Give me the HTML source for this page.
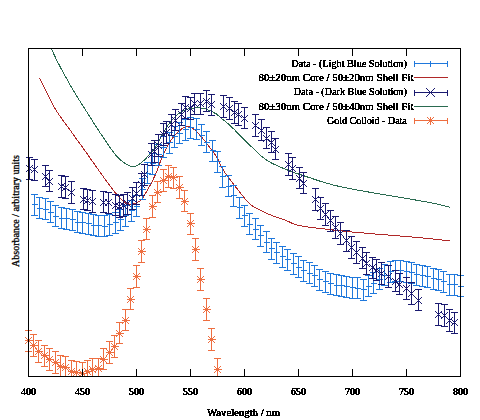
<!DOCTYPE html>
<html><head><meta charset="utf-8"><style>html,body{margin:0;padding:0;background:#fff;width:480px;height:420px;overflow:hidden}svg{display:block}</style></head>
<body><svg width="480" height="420" viewBox="0 0 480 420">
<rect width="480" height="420" fill="#fff"/>
<defs><filter id="al" x="0" y="0" width="480" height="420" filterUnits="userSpaceOnUse"><feComponentTransfer><feFuncA type="discrete" tableValues="0 0 1 1 1"/></feComponentTransfer></filter><clipPath id="pc"><rect x="0" y="48" width="480" height="329"/></clipPath></defs>
<g clip-path="url(#pc)" shape-rendering="crispEdges">
<polyline points="51.0,48.0 51.5,49.2 52.2,50.7 53.1,52.4 54.0,54.4 55.0,56.6 56.1,58.9 57.3,61.3 58.6,63.8 60.0,66.4 61.4,69.2 63.0,72.1 64.7,75.1 66.4,78.2 68.1,81.4 69.9,84.5 71.7,87.6 73.5,90.7 75.4,93.8 77.3,96.9 79.2,100.0 81.2,103.2 83.2,106.3 85.2,109.4 87.1,112.5 89.0,115.6 91.0,118.6 92.9,121.7 94.9,124.8 96.8,127.8 98.8,130.8 100.7,133.7 102.6,136.5 104.5,139.3 106.4,142.1 108.3,144.9 110.1,147.7 112.0,150.3 113.9,152.7 115.7,155.0 117.5,157.0 119.3,158.8 121.1,160.4 123.0,161.9 124.8,163.2 126.5,164.3 128.3,165.2 129.9,165.9 131.4,166.4 132.8,166.6 134.1,166.6 135.3,166.3 136.5,165.8 137.6,165.2 138.7,164.5 139.8,163.7 141.0,162.9 142.2,162.0 143.4,160.9 144.7,159.7 145.9,158.5 147.1,157.2 148.3,155.8 149.4,154.5 150.5,153.3 151.5,152.1 152.4,151.0 153.3,149.9 154.2,148.8 155.0,147.7 155.9,146.5 156.7,145.2 157.6,143.8 158.5,142.3 159.4,140.6 160.3,138.8 161.2,137.0 162.2,135.2 163.1,133.4 164.0,131.6 165.0,130.0 166.0,128.5 166.9,127.0 167.9,125.5 168.8,124.1 169.8,122.8 170.8,121.5 171.8,120.2 172.9,119.0 174.0,117.8 175.2,116.7 176.3,115.6 177.6,114.6 178.8,113.6 180.0,112.7 181.2,111.9 182.4,111.2 183.6,110.6 184.7,110.1 185.9,109.6 187.0,109.3 188.2,109.0 189.4,108.7 190.6,108.5 191.9,108.3 193.2,108.1 194.6,108.0 196.0,107.9 197.5,107.8 198.9,107.8 200.4,107.9 201.9,108.1 203.3,108.3 204.8,108.7 206.3,109.2 207.9,109.8 209.4,110.5 210.9,111.1 212.4,111.8 213.7,112.5 214.8,113.1 215.7,113.6 216.4,114.0 216.9,114.4 217.4,114.8 217.9,115.2 218.4,115.7 219.1,116.3 220.0,117.1 221.1,118.0 222.4,119.1 223.8,120.2 225.3,121.4 226.8,122.7 228.4,124.0 229.9,125.4 231.4,126.7 232.8,128.1 234.3,129.5 235.7,131.0 237.2,132.5 238.6,134.0 240.0,135.6 241.5,137.0 242.9,138.5 244.3,139.9 245.8,141.3 247.2,142.7 248.6,144.1 250.0,145.5 251.5,146.8 252.9,148.2 254.3,149.5 255.7,150.8 257.2,152.2 258.6,153.5 260.0,154.8 261.4,156.1 262.9,157.3 264.3,158.4 265.7,159.5 267.1,160.5 268.5,161.4 270.0,162.2 271.4,162.9 272.8,163.6 274.2,164.3 275.7,165.0 277.1,165.7 278.5,166.4 280.0,167.0 281.4,167.6 282.9,168.2 284.3,168.8 285.7,169.4 287.2,169.9 288.6,170.5 289.9,171.0 290.9,171.4 291.9,171.8 292.9,172.1 294.1,172.6 295.6,173.1 297.5,173.7 300.0,174.5 303.1,175.5 306.8,176.8 310.9,178.1 315.3,179.6 319.8,181.1 324.5,182.5 329.0,183.8 333.3,185.0 337.5,186.0 341.6,187.0 345.8,187.8 350.0,188.7 354.2,189.4 358.4,190.2 362.5,190.9 366.7,191.7 370.9,192.4 375.0,193.2 379.2,193.9 383.4,194.5 387.5,195.2 391.7,195.9 395.8,196.6 400.0,197.3 404.3,198.0 408.7,198.8 413.2,199.6 417.7,200.4 422.0,201.2 426.1,201.9 429.9,202.6 433.3,203.3 436.3,203.9 439.0,204.5 441.5,205.1 443.7,205.7 445.7,206.2 447.4,206.6 448.8,207.0 450.0,207.3" stroke="#2a6a50" fill="none" stroke-width="1"/>
<polyline points="39.5,78.0 40.1,79.1 40.8,80.6 41.7,82.4 42.7,84.4 43.7,86.5 44.8,88.7 45.9,90.9 47.0,93.0 48.0,95.0 49.0,97.1 50.0,99.1 51.0,101.2 52.1,103.4 53.3,105.6 54.7,108.0 56.2,110.5 57.9,113.2 59.9,116.0 61.9,118.9 64.1,121.9 66.3,125.0 68.6,128.0 70.8,131.0 72.9,134.0 75.0,137.0 77.2,140.0 79.4,143.0 81.6,146.1 83.7,149.0 85.7,151.9 87.7,154.5 89.4,157.0 90.9,159.2 92.3,161.1 93.5,162.8 94.6,164.4 95.6,166.0 96.8,167.6 98.0,169.3 99.3,171.2 100.8,173.3 102.5,175.6 104.2,178.0 106.0,180.4 107.7,182.8 109.4,185.0 111.0,187.1 112.4,189.0 113.7,190.6 114.8,192.1 115.9,193.4 116.9,194.6 117.8,195.7 118.7,196.7 119.7,197.7 120.7,198.6 121.7,199.5 122.7,200.4 123.7,201.3 124.7,202.1 125.7,202.8 126.7,203.3 127.8,203.8 129.0,204.0 130.2,204.1 131.6,204.1 133.0,203.9 134.4,203.6 135.8,203.2 137.2,202.6 138.6,201.9 139.8,201.0 141.0,200.0 142.0,198.7 143.1,197.3 144.1,195.8 145.1,194.1 146.0,192.4 147.0,190.7 148.0,189.0 149.0,187.3 150.0,185.5 151.0,183.6 152.0,181.7 153.0,179.8 153.9,177.8 154.8,175.9 155.7,174.0 156.5,172.1 157.2,170.3 157.9,168.4 158.6,166.5 159.2,164.7 159.9,162.8 160.6,160.9 161.4,159.0 162.3,157.0 163.2,155.0 164.1,153.0 165.1,150.9 166.1,148.9 167.0,147.0 168.0,145.2 169.0,143.5 169.9,142.0 170.9,140.5 171.8,139.2 172.7,138.0 173.7,136.8 174.6,135.7 175.7,134.6 176.7,133.5 177.8,132.4 179.0,131.3 180.2,130.2 181.5,129.1 182.7,128.2 183.9,127.4 185.1,126.8 186.2,126.4 187.2,126.3 188.2,126.3 189.2,126.5 190.1,126.9 191.0,127.4 191.9,128.0 192.9,128.6 193.8,129.3 194.8,130.0 195.7,130.8 196.7,131.7 197.6,132.7 198.6,133.7 199.5,134.8 200.5,135.8 201.4,136.9 202.4,138.0 203.3,139.1 204.3,140.3 205.2,141.5 206.2,142.7 207.1,144.0 208.1,145.2 209.0,146.4 209.9,147.6 210.8,148.7 211.7,149.8 212.5,150.9 213.4,152.1 214.2,153.3 215.1,154.6 216.0,156.0 216.9,157.6 217.8,159.2 218.7,161.0 219.6,162.9 220.5,164.7 221.4,166.6 222.3,168.3 223.3,170.0 224.3,171.6 225.3,173.1 226.4,174.6 227.4,176.1 228.5,177.5 229.6,178.9 230.6,180.3 231.7,181.7 232.7,183.1 233.8,184.5 234.8,185.9 235.9,187.2 236.9,188.5 237.9,189.9 239.0,191.2 240.0,192.5 241.0,193.8 242.1,195.2 243.2,196.5 244.3,197.9 245.3,199.2 246.3,200.4 247.3,201.5 248.3,202.5 249.2,203.4 250.0,204.1 250.8,204.7 251.5,205.3 252.3,205.8 253.1,206.4 254.0,206.9 255.0,207.5 256.1,208.1 257.3,208.8 258.5,209.4 259.8,210.0 261.1,210.7 262.4,211.3 263.7,211.9 265.0,212.5 266.2,213.1 267.5,213.6 268.8,214.2 270.0,214.7 271.2,215.2 272.5,215.7 273.8,216.2 275.0,216.7 276.2,217.1 277.4,217.5 278.5,217.9 279.7,218.3 280.9,218.6 282.1,219.0 283.5,219.5 285.0,220.0 286.5,220.6 288.0,221.3 289.5,222.0 291.0,222.8 292.8,223.6 294.8,224.3 297.2,225.0 300.0,225.7 303.3,226.3 307.0,226.9 311.1,227.5 315.5,228.0 320.0,228.5 324.5,229.0 329.0,229.5 333.3,230.0 337.5,230.5 341.6,230.9 345.8,231.3 350.0,231.8 354.2,232.2 358.4,232.5 362.5,232.9 366.7,233.3 370.9,233.7 375.0,234.0 379.2,234.3 383.4,234.7 387.5,235.0 391.7,235.3 395.8,235.7 400.0,236.0 404.3,236.4 408.7,236.8 413.2,237.1 417.7,237.5 422.0,237.9 426.1,238.3 429.9,238.7 433.3,239.0 436.3,239.3 439.0,239.6 441.5,239.9 443.7,240.2 445.7,240.4 447.4,240.7 448.8,240.9 450.0,241.0" stroke="#b02828" fill="none" stroke-width="1"/>
<path d="M34.5 194.5V215.5M31.0 194.5h7.0M31.0 215.5h7.0M31.5 204.5h6M34.5 201.5v6M39.5 197.5V218.5M36.0 197.5h7.0M36.0 218.5h7.0M36.5 208.5h6M39.5 205.5v6M45.5 198.5V219.5M42.0 198.5h7.0M42.0 219.5h7.0M42.5 209.5h6M45.5 206.5v6M50.5 201.5V222.5M47.0 201.5h7.0M47.0 222.5h7.0M47.5 212.5h6M50.5 209.5v6M55.5 205.5V226.5M52.0 205.5h7.0M52.0 226.5h7.0M52.5 216.5h6M55.5 213.5v6M61.5 207.5V228.5M58.0 207.5h7.0M58.0 228.5h7.0M58.5 218.5h6M61.5 215.5v6M66.5 208.5V229.5M63.0 208.5h7.0M63.0 229.5h7.0M63.5 218.5h6M66.5 215.5v6M72.5 209.5V230.5M69.0 209.5h7.0M69.0 230.5h7.0M69.5 219.5h6M72.5 216.5v6M77.5 211.5V232.5M74.0 211.5h7.0M74.0 232.5h7.0M74.5 222.5h6M77.5 219.5v6M82.5 212.5V233.5M79.0 212.5h7.0M79.0 233.5h7.0M79.5 222.5h6M82.5 219.5v6M88.5 213.5V234.5M85.0 213.5h7.0M85.0 234.5h7.0M85.5 223.5h6M88.5 220.5v6M93.5 214.5V235.5M90.0 214.5h7.0M90.0 235.5h7.0M90.5 225.5h6M93.5 222.5v6M98.5 215.5V236.5M95.0 215.5h7.0M95.0 236.5h7.0M95.5 225.5h6M98.5 222.5v6M104.5 215.5V236.5M101.0 215.5h7.0M101.0 236.5h7.0M101.5 226.5h6M104.5 223.5v6M109.5 214.5V235.5M106.0 214.5h7.0M106.0 235.5h7.0M106.5 224.5h6M109.5 221.5v6M115.5 212.5V233.5M112.0 212.5h7.0M112.0 233.5h7.0M112.5 222.5h6M115.5 219.5v6M120.5 209.5V230.5M117.0 209.5h7.0M117.0 230.5h7.0M117.5 219.5h6M120.5 216.5v6M125.5 205.5V226.5M122.0 205.5h7.0M122.0 226.5h7.0M122.5 215.5h6M125.5 212.5v6M131.5 200.5V221.5M128.0 200.5h7.0M128.0 221.5h7.0M128.5 210.5h6M131.5 207.5v6M136.5 195.5V216.5M133.0 195.5h7.0M133.0 216.5h7.0M133.5 206.5h6M136.5 203.5v6M142.5 178.5V199.5M139.0 178.5h7.0M139.0 199.5h7.0M139.5 189.5h6M142.5 186.5v6M147.5 162.5V183.5M144.0 162.5h7.0M144.0 183.5h7.0M144.5 173.5h6M147.5 170.5v6M152.5 153.5V174.5M149.0 153.5h7.0M149.0 174.5h7.0M149.5 163.5h6M152.5 160.5v6M158.5 144.5V165.5M155.0 144.5h7.0M155.0 165.5h7.0M155.5 154.5h6M158.5 151.5v6M163.5 136.5V157.5M160.0 136.5h7.0M160.0 157.5h7.0M160.5 147.5h6M163.5 144.5v6M169.5 132.5V153.5M166.0 132.5h7.0M166.0 153.5h7.0M166.5 142.5h6M169.5 139.5v6M174.5 126.5V147.5M171.0 126.5h7.0M171.0 147.5h7.0M171.5 136.5h6M174.5 133.5v6M179.5 122.5V143.5M176.0 122.5h7.0M176.0 143.5h7.0M176.5 133.5h6M179.5 130.5v6M185.5 119.5V140.5M182.0 119.5h7.0M182.0 140.5h7.0M182.5 129.5h6M185.5 126.5v6M190.5 117.5V138.5M187.0 117.5h7.0M187.0 138.5h7.0M187.5 127.5h6M190.5 124.5v6M196.5 118.5V139.5M193.0 118.5h7.0M193.0 139.5h7.0M193.5 129.5h6M196.5 126.5v6M201.5 124.5V145.5M198.0 124.5h7.0M198.0 145.5h7.0M198.5 135.5h6M201.5 132.5v6M206.5 131.5V152.5M203.0 131.5h7.0M203.0 152.5h7.0M203.5 142.5h6M206.5 139.5v6M212.5 140.5V161.5M209.0 140.5h7.0M209.0 161.5h7.0M209.5 150.5h6M212.5 147.5v6M217.5 151.5V172.5M214.0 151.5h7.0M214.0 172.5h7.0M214.5 161.5h6M217.5 158.5v6M222.5 166.5V187.5M219.0 166.5h7.0M219.0 187.5h7.0M219.5 176.5h6M222.5 173.5v6M228.5 175.5V196.5M225.0 175.5h7.0M225.0 196.5h7.0M225.5 186.5h6M228.5 183.5v6M233.5 185.5V206.5M230.0 185.5h7.0M230.0 206.5h7.0M230.5 195.5h6M233.5 192.5v6M239.5 197.5V218.5M236.0 197.5h7.0M236.0 218.5h7.0M236.5 207.5h6M239.5 204.5v6M244.5 205.5V226.5M241.0 205.5h7.0M241.0 226.5h7.0M241.5 215.5h6M244.5 212.5v6M249.5 213.5V234.5M246.0 213.5h7.0M246.0 234.5h7.0M246.5 224.5h6M249.5 221.5v6M255.5 218.5V239.5M252.0 218.5h7.0M252.0 239.5h7.0M252.5 229.5h6M255.5 226.5v6M260.5 225.5V246.5M257.0 225.5h7.0M257.0 246.5h7.0M257.5 235.5h6M260.5 232.5v6M266.5 231.5V252.5M263.0 231.5h7.0M263.0 252.5h7.0M263.5 242.5h6M266.5 239.5v6M271.5 238.5V259.5M268.0 238.5h7.0M268.0 259.5h7.0M268.5 248.5h6M271.5 245.5v6M276.5 242.5V263.5M273.0 242.5h7.0M273.0 263.5h7.0M273.5 252.5h6M276.5 249.5v6M282.5 246.5V267.5M279.0 246.5h7.0M279.0 267.5h7.0M279.5 256.5h6M282.5 253.5v6M287.5 249.5V270.5M284.0 249.5h7.0M284.0 270.5h7.0M284.5 259.5h6M287.5 256.5v6M293.5 253.5V274.5M290.0 253.5h7.0M290.0 274.5h7.0M290.5 263.5h6M293.5 260.5v6M298.5 256.5V277.5M295.0 256.5h7.0M295.0 277.5h7.0M295.5 267.5h6M298.5 264.5v6M303.5 260.5V281.5M300.0 260.5h7.0M300.0 281.5h7.0M300.5 270.5h6M303.5 267.5v6M309.5 262.5V283.5M306.0 262.5h7.0M306.0 283.5h7.0M306.5 273.5h6M309.5 270.5v6M314.5 265.5V286.5M311.0 265.5h7.0M311.0 286.5h7.0M311.5 275.5h6M314.5 272.5v6M319.5 269.5V290.5M316.0 269.5h7.0M316.0 290.5h7.0M316.5 279.5h6M319.5 276.5v6M325.5 271.5V292.5M322.0 271.5h7.0M322.0 292.5h7.0M322.5 281.5h6M325.5 278.5v6M330.5 273.5V294.5M327.0 273.5h7.0M327.0 294.5h7.0M327.5 283.5h6M330.5 280.5v6M336.5 274.5V295.5M333.0 274.5h7.0M333.0 295.5h7.0M333.5 285.5h6M336.5 282.5v6M341.5 275.5V296.5M338.0 275.5h7.0M338.0 296.5h7.0M338.5 285.5h6M341.5 282.5v6M346.5 276.5V297.5M343.0 276.5h7.0M343.0 297.5h7.0M343.5 286.5h6M346.5 283.5v6M352.5 277.5V298.5M349.0 277.5h7.0M349.0 298.5h7.0M349.5 287.5h6M352.5 284.5v6M357.5 277.5V298.5M354.0 277.5h7.0M354.0 298.5h7.0M354.5 288.5h6M357.5 285.5v6M363.5 279.5V300.5M360.0 279.5h7.0M360.0 300.5h7.0M360.5 289.5h6M363.5 286.5v6M368.5 275.5V296.5M365.0 275.5h7.0M365.0 296.5h7.0M365.5 286.5h6M368.5 283.5v6M373.5 272.5V293.5M370.0 272.5h7.0M370.0 293.5h7.0M370.5 283.5h6M373.5 280.5v6M379.5 268.5V289.5M376.0 268.5h7.0M376.0 289.5h7.0M376.5 279.5h6M379.5 276.5v6M384.5 264.5V285.5M381.0 264.5h7.0M381.0 285.5h7.0M381.5 275.5h6M384.5 272.5v6M390.5 261.5V282.5M387.0 261.5h7.0M387.0 282.5h7.0M387.5 271.5h6M390.5 268.5v6M395.5 260.5V281.5M392.0 260.5h7.0M392.0 281.5h7.0M392.5 270.5h6M395.5 267.5v6M400.5 260.5V281.5M397.0 260.5h7.0M397.0 281.5h7.0M397.5 270.5h6M400.5 267.5v6M406.5 261.5V282.5M403.0 261.5h7.0M403.0 282.5h7.0M403.5 271.5h6M406.5 268.5v6M411.5 262.5V283.5M408.0 262.5h7.0M408.0 283.5h7.0M408.5 272.5h6M411.5 269.5v6M416.5 264.5V285.5M413.0 264.5h7.0M413.0 285.5h7.0M413.5 274.5h6M416.5 271.5v6M422.5 265.5V286.5M419.0 265.5h7.0M419.0 286.5h7.0M419.5 275.5h6M422.5 272.5v6M427.5 266.5V287.5M424.0 266.5h7.0M424.0 287.5h7.0M424.5 276.5h6M427.5 273.5v6M433.5 268.5V289.5M430.0 268.5h7.0M430.0 289.5h7.0M430.5 278.5h6M433.5 275.5v6M438.5 269.5V290.5M435.0 269.5h7.0M435.0 290.5h7.0M435.5 279.5h6M438.5 276.5v6M443.5 271.5V292.5M440.0 271.5h7.0M440.0 292.5h7.0M440.5 281.5h6M443.5 278.5v6M449.5 274.5V295.5M446.0 274.5h7.0M446.0 295.5h7.0M446.5 284.5h6M449.5 281.5v6M454.5 274.5V295.5M451.0 274.5h7.0M451.0 295.5h7.0M451.5 284.5h6M454.5 281.5v6M460.5 275.5V296.5M457.0 275.5h7.0M457.0 296.5h7.0M457.5 286.5h6M460.5 283.5v6" stroke="#1f78dc" fill="none" stroke-width="1"/>
<path d="M29.5 157.5V179.5M26.0 157.5h7.0M26.0 179.5h7.0M34.5 159.5V180.5M31.0 159.5h7.0M31.0 180.5h7.0M45.5 165.5V186.5M42.0 165.5h7.0M42.0 186.5h7.0M49.5 170.5V191.5M46.0 170.5h7.0M46.0 191.5h7.0M61.5 175.5V197.5M58.0 175.5h7.0M58.0 197.5h7.0M65.5 176.5V198.5M62.0 176.5h7.0M62.0 198.5h7.0M71.5 181.5V203.5M68.0 181.5h7.0M68.0 203.5h7.0M83.5 188.5V209.5M80.0 188.5h7.0M80.0 209.5h7.0M87.5 189.5V210.5M84.0 189.5h7.0M84.0 210.5h7.0M92.5 190.5V212.5M89.0 190.5h7.0M89.0 212.5h7.0M103.5 191.5V212.5M100.0 191.5h7.0M100.0 212.5h7.0M108.5 192.5V213.5M105.0 192.5h7.0M105.0 213.5h7.0M115.5 194.5V215.5M112.0 194.5h7.0M112.0 215.5h7.0M119.5 195.5V217.5M116.0 195.5h7.0M116.0 217.5h7.0M123.5 194.5V216.5M120.0 194.5h7.0M120.0 216.5h7.0M127.5 192.5V214.5M124.0 192.5h7.0M124.0 214.5h7.0M132.5 187.5V209.5M129.0 187.5h7.0M129.0 209.5h7.0M136.5 182.5V204.5M133.0 182.5h7.0M133.0 204.5h7.0M141.5 173.5V195.5M138.0 173.5h7.0M138.0 195.5h7.0M144.5 164.5V185.5M141.0 164.5h7.0M141.0 185.5h7.0M151.5 143.5V165.5M148.0 143.5h7.0M148.0 165.5h7.0M154.5 140.5V162.5M151.0 140.5h7.0M151.0 162.5h7.0M158.5 134.5V156.5M155.0 134.5h7.0M155.0 156.5h7.0M163.5 123.5V145.5M160.0 123.5h7.0M160.0 145.5h7.0M166.5 121.5V143.5M163.0 121.5h7.0M163.0 143.5h7.0M171.5 114.5V135.5M168.0 114.5h7.0M168.0 135.5h7.0M175.5 109.5V130.5M172.0 109.5h7.0M172.0 130.5h7.0M181.5 103.5V125.5M178.0 103.5h7.0M178.0 125.5h7.0M185.5 96.5V118.5M182.0 96.5h7.0M182.0 118.5h7.0M190.5 97.5V119.5M187.0 97.5h7.0M187.0 119.5h7.0M194.5 93.5V114.5M191.0 93.5h7.0M191.0 114.5h7.0M200.5 93.5V114.5M197.0 93.5h7.0M197.0 114.5h7.0M206.5 90.5V111.5M203.0 90.5h7.0M203.0 111.5h7.0M211.5 94.5V115.5M208.0 94.5h7.0M208.0 115.5h7.0M223.5 95.5V117.5M220.0 95.5h7.0M220.0 117.5h7.0M229.5 97.5V119.5M226.0 97.5h7.0M226.0 119.5h7.0M234.5 101.5V123.5M231.0 101.5h7.0M231.0 123.5h7.0M238.5 103.5V125.5M235.0 103.5h7.0M235.0 125.5h7.0M244.5 107.5V128.5M241.0 107.5h7.0M241.0 128.5h7.0M255.5 114.5V136.5M252.0 114.5h7.0M252.0 136.5h7.0M261.5 119.5V140.5M258.0 119.5h7.0M258.0 140.5h7.0M266.5 127.5V148.5M263.0 127.5h7.0M263.0 148.5h7.0M271.5 131.5V152.5M268.0 131.5h7.0M268.0 152.5h7.0M275.5 138.5V159.5M272.0 138.5h7.0M272.0 159.5h7.0M288.5 153.5V175.5M285.0 153.5h7.0M285.0 175.5h7.0M292.5 157.5V179.5M289.0 157.5h7.0M289.0 179.5h7.0M299.5 167.5V188.5M296.0 167.5h7.0M296.0 188.5h7.0M303.5 172.5V193.5M300.0 172.5h7.0M300.0 193.5h7.0M315.5 188.5V210.5M312.0 188.5h7.0M312.0 210.5h7.0M320.5 197.5V219.5M317.0 197.5h7.0M317.0 219.5h7.0M325.5 203.5V225.5M322.0 203.5h7.0M322.0 225.5h7.0M330.5 210.5V231.5M327.0 210.5h7.0M327.0 231.5h7.0M335.5 216.5V238.5M332.0 216.5h7.0M332.0 238.5h7.0M340.5 222.5V244.5M337.0 222.5h7.0M337.0 244.5h7.0M346.5 230.5V251.5M343.0 230.5h7.0M343.0 251.5h7.0M351.5 236.5V258.5M348.0 236.5h7.0M348.0 258.5h7.0M356.5 241.5V263.5M353.0 241.5h7.0M353.0 263.5h7.0M362.5 247.5V268.5M359.0 247.5h7.0M359.0 268.5h7.0M366.5 252.5V274.5M363.0 252.5h7.0M363.0 274.5h7.0M372.5 257.5V278.5M369.0 257.5h7.0M369.0 278.5h7.0M376.5 259.5V280.5M373.0 259.5h7.0M373.0 280.5h7.0M381.5 262.5V284.5M378.0 262.5h7.0M378.0 284.5h7.0M388.5 265.5V287.5M385.0 265.5h7.0M385.0 287.5h7.0M395.5 270.5V291.5M392.0 270.5h7.0M392.0 291.5h7.0M399.5 273.5V294.5M396.0 273.5h7.0M396.0 294.5h7.0M406.5 277.5V299.5M403.0 277.5h7.0M403.0 299.5h7.0M411.5 282.5V304.5M408.0 282.5h7.0M408.0 304.5h7.0M418.5 289.5V310.5M415.0 289.5h7.0M415.0 310.5h7.0M438.5 303.5V325.5M435.0 303.5h7.0M435.0 325.5h7.0M444.5 304.5V326.5M441.0 304.5h7.0M441.0 326.5h7.0M449.5 309.5V331.5M446.0 309.5h7.0M446.0 331.5h7.0M454.5 312.5V333.5M451.0 312.5h7.0M451.0 333.5h7.0" stroke="#1a1a70" fill="none" stroke-width="1"/><path d="M26 165h1v1h-1zM26 171h1v1h-1zM27 166h1v1h-1zM27 170h1v1h-1zM28 167h1v1h-1zM28 169h1v1h-1zM29 168h1v1h-1zM30 169h1v1h-1zM30 167h1v1h-1zM31 170h1v1h-1zM31 166h1v1h-1zM32 171h1v1h-1zM32 165h1v1h-1zM31 166h1v1h-1zM31 172h1v1h-1zM32 167h1v1h-1zM32 171h1v1h-1zM33 168h1v1h-1zM33 170h1v1h-1zM34 169h1v1h-1zM35 170h1v1h-1zM35 168h1v1h-1zM36 171h1v1h-1zM36 167h1v1h-1zM37 172h1v1h-1zM37 166h1v1h-1zM42 173h1v1h-1zM42 179h1v1h-1zM43 174h1v1h-1zM43 178h1v1h-1zM44 175h1v1h-1zM44 177h1v1h-1zM45 176h1v1h-1zM46 177h1v1h-1zM46 175h1v1h-1zM47 178h1v1h-1zM47 174h1v1h-1zM48 179h1v1h-1zM48 173h1v1h-1zM46 178h1v1h-1zM46 184h1v1h-1zM47 179h1v1h-1zM47 183h1v1h-1zM48 180h1v1h-1zM48 182h1v1h-1zM49 181h1v1h-1zM50 182h1v1h-1zM50 180h1v1h-1zM51 183h1v1h-1zM51 179h1v1h-1zM52 184h1v1h-1zM52 178h1v1h-1zM58 183h1v1h-1zM58 189h1v1h-1zM59 184h1v1h-1zM59 188h1v1h-1zM60 185h1v1h-1zM60 187h1v1h-1zM61 186h1v1h-1zM62 187h1v1h-1zM62 185h1v1h-1zM63 188h1v1h-1zM63 184h1v1h-1zM64 189h1v1h-1zM64 183h1v1h-1zM62 184h1v1h-1zM62 190h1v1h-1zM63 185h1v1h-1zM63 189h1v1h-1zM64 186h1v1h-1zM64 188h1v1h-1zM65 187h1v1h-1zM66 188h1v1h-1zM66 186h1v1h-1zM67 189h1v1h-1zM67 185h1v1h-1zM68 190h1v1h-1zM68 184h1v1h-1zM68 189h1v1h-1zM68 195h1v1h-1zM69 190h1v1h-1zM69 194h1v1h-1zM70 191h1v1h-1zM70 193h1v1h-1zM71 192h1v1h-1zM72 193h1v1h-1zM72 191h1v1h-1zM73 194h1v1h-1zM73 190h1v1h-1zM74 195h1v1h-1zM74 189h1v1h-1zM80 196h1v1h-1zM80 202h1v1h-1zM81 197h1v1h-1zM81 201h1v1h-1zM82 198h1v1h-1zM82 200h1v1h-1zM83 199h1v1h-1zM84 200h1v1h-1zM84 198h1v1h-1zM85 201h1v1h-1zM85 197h1v1h-1zM86 202h1v1h-1zM86 196h1v1h-1zM84 197h1v1h-1zM84 203h1v1h-1zM85 198h1v1h-1zM85 202h1v1h-1zM86 199h1v1h-1zM86 201h1v1h-1zM87 200h1v1h-1zM88 201h1v1h-1zM88 199h1v1h-1zM89 202h1v1h-1zM89 198h1v1h-1zM90 203h1v1h-1zM90 197h1v1h-1zM89 198h1v1h-1zM89 204h1v1h-1zM90 199h1v1h-1zM90 203h1v1h-1zM91 200h1v1h-1zM91 202h1v1h-1zM92 201h1v1h-1zM93 202h1v1h-1zM93 200h1v1h-1zM94 203h1v1h-1zM94 199h1v1h-1zM95 204h1v1h-1zM95 198h1v1h-1zM100 199h1v1h-1zM100 205h1v1h-1zM101 200h1v1h-1zM101 204h1v1h-1zM102 201h1v1h-1zM102 203h1v1h-1zM103 202h1v1h-1zM104 203h1v1h-1zM104 201h1v1h-1zM105 204h1v1h-1zM105 200h1v1h-1zM106 205h1v1h-1zM106 199h1v1h-1zM105 199h1v1h-1zM105 205h1v1h-1zM106 200h1v1h-1zM106 204h1v1h-1zM107 201h1v1h-1zM107 203h1v1h-1zM108 202h1v1h-1zM109 203h1v1h-1zM109 201h1v1h-1zM110 204h1v1h-1zM110 200h1v1h-1zM111 205h1v1h-1zM111 199h1v1h-1zM112 202h1v1h-1zM112 208h1v1h-1zM113 203h1v1h-1zM113 207h1v1h-1zM114 204h1v1h-1zM114 206h1v1h-1zM115 205h1v1h-1zM116 206h1v1h-1zM116 204h1v1h-1zM117 207h1v1h-1zM117 203h1v1h-1zM118 208h1v1h-1zM118 202h1v1h-1zM116 203h1v1h-1zM116 209h1v1h-1zM117 204h1v1h-1zM117 208h1v1h-1zM118 205h1v1h-1zM118 207h1v1h-1zM119 206h1v1h-1zM120 207h1v1h-1zM120 205h1v1h-1zM121 208h1v1h-1zM121 204h1v1h-1zM122 209h1v1h-1zM122 203h1v1h-1zM120 202h1v1h-1zM120 208h1v1h-1zM121 203h1v1h-1zM121 207h1v1h-1zM122 204h1v1h-1zM122 206h1v1h-1zM123 205h1v1h-1zM124 206h1v1h-1zM124 204h1v1h-1zM125 207h1v1h-1zM125 203h1v1h-1zM126 208h1v1h-1zM126 202h1v1h-1zM124 200h1v1h-1zM124 206h1v1h-1zM125 201h1v1h-1zM125 205h1v1h-1zM126 202h1v1h-1zM126 204h1v1h-1zM127 203h1v1h-1zM128 204h1v1h-1zM128 202h1v1h-1zM129 205h1v1h-1zM129 201h1v1h-1zM130 206h1v1h-1zM130 200h1v1h-1zM129 195h1v1h-1zM129 201h1v1h-1zM130 196h1v1h-1zM130 200h1v1h-1zM131 197h1v1h-1zM131 199h1v1h-1zM132 198h1v1h-1zM133 199h1v1h-1zM133 197h1v1h-1zM134 200h1v1h-1zM134 196h1v1h-1zM135 201h1v1h-1zM135 195h1v1h-1zM133 190h1v1h-1zM133 196h1v1h-1zM134 191h1v1h-1zM134 195h1v1h-1zM135 192h1v1h-1zM135 194h1v1h-1zM136 193h1v1h-1zM137 194h1v1h-1zM137 192h1v1h-1zM138 195h1v1h-1zM138 191h1v1h-1zM139 196h1v1h-1zM139 190h1v1h-1zM138 181h1v1h-1zM138 187h1v1h-1zM139 182h1v1h-1zM139 186h1v1h-1zM140 183h1v1h-1zM140 185h1v1h-1zM141 184h1v1h-1zM142 185h1v1h-1zM142 183h1v1h-1zM143 186h1v1h-1zM143 182h1v1h-1zM144 187h1v1h-1zM144 181h1v1h-1zM141 171h1v1h-1zM141 177h1v1h-1zM142 172h1v1h-1zM142 176h1v1h-1zM143 173h1v1h-1zM143 175h1v1h-1zM144 174h1v1h-1zM145 175h1v1h-1zM145 173h1v1h-1zM146 176h1v1h-1zM146 172h1v1h-1zM147 177h1v1h-1zM147 171h1v1h-1zM148 151h1v1h-1zM148 157h1v1h-1zM149 152h1v1h-1zM149 156h1v1h-1zM150 153h1v1h-1zM150 155h1v1h-1zM151 154h1v1h-1zM152 155h1v1h-1zM152 153h1v1h-1zM153 156h1v1h-1zM153 152h1v1h-1zM154 157h1v1h-1zM154 151h1v1h-1zM151 148h1v1h-1zM151 154h1v1h-1zM152 149h1v1h-1zM152 153h1v1h-1zM153 150h1v1h-1zM153 152h1v1h-1zM154 151h1v1h-1zM155 152h1v1h-1zM155 150h1v1h-1zM156 153h1v1h-1zM156 149h1v1h-1zM157 154h1v1h-1zM157 148h1v1h-1zM155 142h1v1h-1zM155 148h1v1h-1zM156 143h1v1h-1zM156 147h1v1h-1zM157 144h1v1h-1zM157 146h1v1h-1zM158 145h1v1h-1zM159 146h1v1h-1zM159 144h1v1h-1zM160 147h1v1h-1zM160 143h1v1h-1zM161 148h1v1h-1zM161 142h1v1h-1zM160 131h1v1h-1zM160 137h1v1h-1zM161 132h1v1h-1zM161 136h1v1h-1zM162 133h1v1h-1zM162 135h1v1h-1zM163 134h1v1h-1zM164 135h1v1h-1zM164 133h1v1h-1zM165 136h1v1h-1zM165 132h1v1h-1zM166 137h1v1h-1zM166 131h1v1h-1zM163 129h1v1h-1zM163 135h1v1h-1zM164 130h1v1h-1zM164 134h1v1h-1zM165 131h1v1h-1zM165 133h1v1h-1zM166 132h1v1h-1zM167 133h1v1h-1zM167 131h1v1h-1zM168 134h1v1h-1zM168 130h1v1h-1zM169 135h1v1h-1zM169 129h1v1h-1zM168 121h1v1h-1zM168 127h1v1h-1zM169 122h1v1h-1zM169 126h1v1h-1zM170 123h1v1h-1zM170 125h1v1h-1zM171 124h1v1h-1zM172 125h1v1h-1zM172 123h1v1h-1zM173 126h1v1h-1zM173 122h1v1h-1zM174 127h1v1h-1zM174 121h1v1h-1zM172 117h1v1h-1zM172 123h1v1h-1zM173 118h1v1h-1zM173 122h1v1h-1zM174 119h1v1h-1zM174 121h1v1h-1zM175 120h1v1h-1zM176 121h1v1h-1zM176 119h1v1h-1zM177 122h1v1h-1zM177 118h1v1h-1zM178 123h1v1h-1zM178 117h1v1h-1zM178 111h1v1h-1zM178 117h1v1h-1zM179 112h1v1h-1zM179 116h1v1h-1zM180 113h1v1h-1zM180 115h1v1h-1zM181 114h1v1h-1zM182 115h1v1h-1zM182 113h1v1h-1zM183 116h1v1h-1zM183 112h1v1h-1zM184 117h1v1h-1zM184 111h1v1h-1zM182 104h1v1h-1zM182 110h1v1h-1zM183 105h1v1h-1zM183 109h1v1h-1zM184 106h1v1h-1zM184 108h1v1h-1zM185 107h1v1h-1zM186 108h1v1h-1zM186 106h1v1h-1zM187 109h1v1h-1zM187 105h1v1h-1zM188 110h1v1h-1zM188 104h1v1h-1zM187 105h1v1h-1zM187 111h1v1h-1zM188 106h1v1h-1zM188 110h1v1h-1zM189 107h1v1h-1zM189 109h1v1h-1zM190 108h1v1h-1zM191 109h1v1h-1zM191 107h1v1h-1zM192 110h1v1h-1zM192 106h1v1h-1zM193 111h1v1h-1zM193 105h1v1h-1zM191 100h1v1h-1zM191 106h1v1h-1zM192 101h1v1h-1zM192 105h1v1h-1zM193 102h1v1h-1zM193 104h1v1h-1zM194 103h1v1h-1zM195 104h1v1h-1zM195 102h1v1h-1zM196 105h1v1h-1zM196 101h1v1h-1zM197 106h1v1h-1zM197 100h1v1h-1zM197 100h1v1h-1zM197 106h1v1h-1zM198 101h1v1h-1zM198 105h1v1h-1zM199 102h1v1h-1zM199 104h1v1h-1zM200 103h1v1h-1zM201 104h1v1h-1zM201 102h1v1h-1zM202 105h1v1h-1zM202 101h1v1h-1zM203 106h1v1h-1zM203 100h1v1h-1zM203 98h1v1h-1zM203 104h1v1h-1zM204 99h1v1h-1zM204 103h1v1h-1zM205 100h1v1h-1zM205 102h1v1h-1zM206 101h1v1h-1zM207 102h1v1h-1zM207 100h1v1h-1zM208 103h1v1h-1zM208 99h1v1h-1zM209 104h1v1h-1zM209 98h1v1h-1zM208 101h1v1h-1zM208 107h1v1h-1zM209 102h1v1h-1zM209 106h1v1h-1zM210 103h1v1h-1zM210 105h1v1h-1zM211 104h1v1h-1zM212 105h1v1h-1zM212 103h1v1h-1zM213 106h1v1h-1zM213 102h1v1h-1zM214 107h1v1h-1zM214 101h1v1h-1zM220 103h1v1h-1zM220 109h1v1h-1zM221 104h1v1h-1zM221 108h1v1h-1zM222 105h1v1h-1zM222 107h1v1h-1zM223 106h1v1h-1zM224 107h1v1h-1zM224 105h1v1h-1zM225 108h1v1h-1zM225 104h1v1h-1zM226 109h1v1h-1zM226 103h1v1h-1zM226 105h1v1h-1zM226 111h1v1h-1zM227 106h1v1h-1zM227 110h1v1h-1zM228 107h1v1h-1zM228 109h1v1h-1zM229 108h1v1h-1zM230 109h1v1h-1zM230 107h1v1h-1zM231 110h1v1h-1zM231 106h1v1h-1zM232 111h1v1h-1zM232 105h1v1h-1zM231 109h1v1h-1zM231 115h1v1h-1zM232 110h1v1h-1zM232 114h1v1h-1zM233 111h1v1h-1zM233 113h1v1h-1zM234 112h1v1h-1zM235 113h1v1h-1zM235 111h1v1h-1zM236 114h1v1h-1zM236 110h1v1h-1zM237 115h1v1h-1zM237 109h1v1h-1zM235 111h1v1h-1zM235 117h1v1h-1zM236 112h1v1h-1zM236 116h1v1h-1zM237 113h1v1h-1zM237 115h1v1h-1zM238 114h1v1h-1zM239 115h1v1h-1zM239 113h1v1h-1zM240 116h1v1h-1zM240 112h1v1h-1zM241 117h1v1h-1zM241 111h1v1h-1zM241 115h1v1h-1zM241 121h1v1h-1zM242 116h1v1h-1zM242 120h1v1h-1zM243 117h1v1h-1zM243 119h1v1h-1zM244 118h1v1h-1zM245 119h1v1h-1zM245 117h1v1h-1zM246 120h1v1h-1zM246 116h1v1h-1zM247 121h1v1h-1zM247 115h1v1h-1zM252 122h1v1h-1zM252 128h1v1h-1zM253 123h1v1h-1zM253 127h1v1h-1zM254 124h1v1h-1zM254 126h1v1h-1zM255 125h1v1h-1zM256 126h1v1h-1zM256 124h1v1h-1zM257 127h1v1h-1zM257 123h1v1h-1zM258 128h1v1h-1zM258 122h1v1h-1zM258 127h1v1h-1zM258 133h1v1h-1zM259 128h1v1h-1zM259 132h1v1h-1zM260 129h1v1h-1zM260 131h1v1h-1zM261 130h1v1h-1zM262 131h1v1h-1zM262 129h1v1h-1zM263 132h1v1h-1zM263 128h1v1h-1zM264 133h1v1h-1zM264 127h1v1h-1zM263 135h1v1h-1zM263 141h1v1h-1zM264 136h1v1h-1zM264 140h1v1h-1zM265 137h1v1h-1zM265 139h1v1h-1zM266 138h1v1h-1zM267 139h1v1h-1zM267 137h1v1h-1zM268 140h1v1h-1zM268 136h1v1h-1zM269 141h1v1h-1zM269 135h1v1h-1zM268 139h1v1h-1zM268 145h1v1h-1zM269 140h1v1h-1zM269 144h1v1h-1zM270 141h1v1h-1zM270 143h1v1h-1zM271 142h1v1h-1zM272 143h1v1h-1zM272 141h1v1h-1zM273 144h1v1h-1zM273 140h1v1h-1zM274 145h1v1h-1zM274 139h1v1h-1zM272 146h1v1h-1zM272 152h1v1h-1zM273 147h1v1h-1zM273 151h1v1h-1zM274 148h1v1h-1zM274 150h1v1h-1zM275 149h1v1h-1zM276 150h1v1h-1zM276 148h1v1h-1zM277 151h1v1h-1zM277 147h1v1h-1zM278 152h1v1h-1zM278 146h1v1h-1zM285 161h1v1h-1zM285 167h1v1h-1zM286 162h1v1h-1zM286 166h1v1h-1zM287 163h1v1h-1zM287 165h1v1h-1zM288 164h1v1h-1zM289 165h1v1h-1zM289 163h1v1h-1zM290 166h1v1h-1zM290 162h1v1h-1zM291 167h1v1h-1zM291 161h1v1h-1zM289 165h1v1h-1zM289 171h1v1h-1zM290 166h1v1h-1zM290 170h1v1h-1zM291 167h1v1h-1zM291 169h1v1h-1zM292 168h1v1h-1zM293 169h1v1h-1zM293 167h1v1h-1zM294 170h1v1h-1zM294 166h1v1h-1zM295 171h1v1h-1zM295 165h1v1h-1zM296 175h1v1h-1zM296 181h1v1h-1zM297 176h1v1h-1zM297 180h1v1h-1zM298 177h1v1h-1zM298 179h1v1h-1zM299 178h1v1h-1zM300 179h1v1h-1zM300 177h1v1h-1zM301 180h1v1h-1zM301 176h1v1h-1zM302 181h1v1h-1zM302 175h1v1h-1zM300 180h1v1h-1zM300 186h1v1h-1zM301 181h1v1h-1zM301 185h1v1h-1zM302 182h1v1h-1zM302 184h1v1h-1zM303 183h1v1h-1zM304 184h1v1h-1zM304 182h1v1h-1zM305 185h1v1h-1zM305 181h1v1h-1zM306 186h1v1h-1zM306 180h1v1h-1zM312 196h1v1h-1zM312 202h1v1h-1zM313 197h1v1h-1zM313 201h1v1h-1zM314 198h1v1h-1zM314 200h1v1h-1zM315 199h1v1h-1zM316 200h1v1h-1zM316 198h1v1h-1zM317 201h1v1h-1zM317 197h1v1h-1zM318 202h1v1h-1zM318 196h1v1h-1zM317 205h1v1h-1zM317 211h1v1h-1zM318 206h1v1h-1zM318 210h1v1h-1zM319 207h1v1h-1zM319 209h1v1h-1zM320 208h1v1h-1zM321 209h1v1h-1zM321 207h1v1h-1zM322 210h1v1h-1zM322 206h1v1h-1zM323 211h1v1h-1zM323 205h1v1h-1zM322 211h1v1h-1zM322 217h1v1h-1zM323 212h1v1h-1zM323 216h1v1h-1zM324 213h1v1h-1zM324 215h1v1h-1zM325 214h1v1h-1zM326 215h1v1h-1zM326 213h1v1h-1zM327 216h1v1h-1zM327 212h1v1h-1zM328 217h1v1h-1zM328 211h1v1h-1zM327 217h1v1h-1zM327 223h1v1h-1zM328 218h1v1h-1zM328 222h1v1h-1zM329 219h1v1h-1zM329 221h1v1h-1zM330 220h1v1h-1zM331 221h1v1h-1zM331 219h1v1h-1zM332 222h1v1h-1zM332 218h1v1h-1zM333 223h1v1h-1zM333 217h1v1h-1zM332 224h1v1h-1zM332 230h1v1h-1zM333 225h1v1h-1zM333 229h1v1h-1zM334 226h1v1h-1zM334 228h1v1h-1zM335 227h1v1h-1zM336 228h1v1h-1zM336 226h1v1h-1zM337 229h1v1h-1zM337 225h1v1h-1zM338 230h1v1h-1zM338 224h1v1h-1zM337 230h1v1h-1zM337 236h1v1h-1zM338 231h1v1h-1zM338 235h1v1h-1zM339 232h1v1h-1zM339 234h1v1h-1zM340 233h1v1h-1zM341 234h1v1h-1zM341 232h1v1h-1zM342 235h1v1h-1zM342 231h1v1h-1zM343 236h1v1h-1zM343 230h1v1h-1zM343 237h1v1h-1zM343 243h1v1h-1zM344 238h1v1h-1zM344 242h1v1h-1zM345 239h1v1h-1zM345 241h1v1h-1zM346 240h1v1h-1zM347 241h1v1h-1zM347 239h1v1h-1zM348 242h1v1h-1zM348 238h1v1h-1zM349 243h1v1h-1zM349 237h1v1h-1zM348 244h1v1h-1zM348 250h1v1h-1zM349 245h1v1h-1zM349 249h1v1h-1zM350 246h1v1h-1zM350 248h1v1h-1zM351 247h1v1h-1zM352 248h1v1h-1zM352 246h1v1h-1zM353 249h1v1h-1zM353 245h1v1h-1zM354 250h1v1h-1zM354 244h1v1h-1zM353 249h1v1h-1zM353 255h1v1h-1zM354 250h1v1h-1zM354 254h1v1h-1zM355 251h1v1h-1zM355 253h1v1h-1zM356 252h1v1h-1zM357 253h1v1h-1zM357 251h1v1h-1zM358 254h1v1h-1zM358 250h1v1h-1zM359 255h1v1h-1zM359 249h1v1h-1zM359 255h1v1h-1zM359 261h1v1h-1zM360 256h1v1h-1zM360 260h1v1h-1zM361 257h1v1h-1zM361 259h1v1h-1zM362 258h1v1h-1zM363 259h1v1h-1zM363 257h1v1h-1zM364 260h1v1h-1zM364 256h1v1h-1zM365 261h1v1h-1zM365 255h1v1h-1zM363 260h1v1h-1zM363 266h1v1h-1zM364 261h1v1h-1zM364 265h1v1h-1zM365 262h1v1h-1zM365 264h1v1h-1zM366 263h1v1h-1zM367 264h1v1h-1zM367 262h1v1h-1zM368 265h1v1h-1zM368 261h1v1h-1zM369 266h1v1h-1zM369 260h1v1h-1zM369 264h1v1h-1zM369 270h1v1h-1zM370 265h1v1h-1zM370 269h1v1h-1zM371 266h1v1h-1zM371 268h1v1h-1zM372 267h1v1h-1zM373 268h1v1h-1zM373 266h1v1h-1zM374 269h1v1h-1zM374 265h1v1h-1zM375 270h1v1h-1zM375 264h1v1h-1zM373 267h1v1h-1zM373 273h1v1h-1zM374 268h1v1h-1zM374 272h1v1h-1zM375 269h1v1h-1zM375 271h1v1h-1zM376 270h1v1h-1zM377 271h1v1h-1zM377 269h1v1h-1zM378 272h1v1h-1zM378 268h1v1h-1zM379 273h1v1h-1zM379 267h1v1h-1zM378 270h1v1h-1zM378 276h1v1h-1zM379 271h1v1h-1zM379 275h1v1h-1zM380 272h1v1h-1zM380 274h1v1h-1zM381 273h1v1h-1zM382 274h1v1h-1zM382 272h1v1h-1zM383 275h1v1h-1zM383 271h1v1h-1zM384 276h1v1h-1zM384 270h1v1h-1zM385 273h1v1h-1zM385 279h1v1h-1zM386 274h1v1h-1zM386 278h1v1h-1zM387 275h1v1h-1zM387 277h1v1h-1zM388 276h1v1h-1zM389 277h1v1h-1zM389 275h1v1h-1zM390 278h1v1h-1zM390 274h1v1h-1zM391 279h1v1h-1zM391 273h1v1h-1zM392 278h1v1h-1zM392 284h1v1h-1zM393 279h1v1h-1zM393 283h1v1h-1zM394 280h1v1h-1zM394 282h1v1h-1zM395 281h1v1h-1zM396 282h1v1h-1zM396 280h1v1h-1zM397 283h1v1h-1zM397 279h1v1h-1zM398 284h1v1h-1zM398 278h1v1h-1zM396 281h1v1h-1zM396 287h1v1h-1zM397 282h1v1h-1zM397 286h1v1h-1zM398 283h1v1h-1zM398 285h1v1h-1zM399 284h1v1h-1zM400 285h1v1h-1zM400 283h1v1h-1zM401 286h1v1h-1zM401 282h1v1h-1zM402 287h1v1h-1zM402 281h1v1h-1zM403 285h1v1h-1zM403 291h1v1h-1zM404 286h1v1h-1zM404 290h1v1h-1zM405 287h1v1h-1zM405 289h1v1h-1zM406 288h1v1h-1zM407 289h1v1h-1zM407 287h1v1h-1zM408 290h1v1h-1zM408 286h1v1h-1zM409 291h1v1h-1zM409 285h1v1h-1zM408 290h1v1h-1zM408 296h1v1h-1zM409 291h1v1h-1zM409 295h1v1h-1zM410 292h1v1h-1zM410 294h1v1h-1zM411 293h1v1h-1zM412 294h1v1h-1zM412 292h1v1h-1zM413 295h1v1h-1zM413 291h1v1h-1zM414 296h1v1h-1zM414 290h1v1h-1zM415 297h1v1h-1zM415 303h1v1h-1zM416 298h1v1h-1zM416 302h1v1h-1zM417 299h1v1h-1zM417 301h1v1h-1zM418 300h1v1h-1zM419 301h1v1h-1zM419 299h1v1h-1zM420 302h1v1h-1zM420 298h1v1h-1zM421 303h1v1h-1zM421 297h1v1h-1zM435 311h1v1h-1zM435 317h1v1h-1zM436 312h1v1h-1zM436 316h1v1h-1zM437 313h1v1h-1zM437 315h1v1h-1zM438 314h1v1h-1zM439 315h1v1h-1zM439 313h1v1h-1zM440 316h1v1h-1zM440 312h1v1h-1zM441 317h1v1h-1zM441 311h1v1h-1zM441 312h1v1h-1zM441 318h1v1h-1zM442 313h1v1h-1zM442 317h1v1h-1zM443 314h1v1h-1zM443 316h1v1h-1zM444 315h1v1h-1zM445 316h1v1h-1zM445 314h1v1h-1zM446 317h1v1h-1zM446 313h1v1h-1zM447 318h1v1h-1zM447 312h1v1h-1zM446 317h1v1h-1zM446 323h1v1h-1zM447 318h1v1h-1zM447 322h1v1h-1zM448 319h1v1h-1zM448 321h1v1h-1zM449 320h1v1h-1zM450 321h1v1h-1zM450 319h1v1h-1zM451 322h1v1h-1zM451 318h1v1h-1zM452 323h1v1h-1zM452 317h1v1h-1zM451 319h1v1h-1zM451 325h1v1h-1zM452 320h1v1h-1zM452 324h1v1h-1zM453 321h1v1h-1zM453 323h1v1h-1zM454 322h1v1h-1zM455 323h1v1h-1zM455 321h1v1h-1zM456 324h1v1h-1zM456 320h1v1h-1zM457 325h1v1h-1zM457 319h1v1h-1z" fill="#1a1a70"/>
<path d="M28.5 330.5V351.5M25.0 330.5h7.0M25.0 351.5h7.0M24.5 340.5h8M28.5 336.5v8M33.5 334.5V356.5M30.0 334.5h7.0M30.0 356.5h7.0M29.5 345.5h8M33.5 341.5v8M38.5 340.5V362.5M35.0 340.5h7.0M35.0 362.5h7.0M34.5 351.5h8M38.5 347.5v8M44.5 345.5V366.5M41.0 345.5h7.0M41.0 366.5h7.0M40.5 355.5h8M44.5 351.5v8M49.5 348.5V370.5M46.0 348.5h7.0M46.0 370.5h7.0M45.5 359.5h8M49.5 355.5v8M55.5 351.5V373.5M52.0 351.5h7.0M52.0 373.5h7.0M51.5 362.5h8M55.5 358.5v8M60.5 355.5V377.5M57.0 355.5h7.0M57.0 377.5h7.0M56.5 366.5h8M60.5 362.5v8M65.5 356.5V378.5M62.0 356.5h7.0M62.0 378.5h7.0M61.5 367.5h8M65.5 363.5v8M71.5 360.5V381.5M68.0 360.5h7.0M68.0 381.5h7.0M67.5 371.5h8M71.5 367.5v8M76.5 361.5V383.5M73.0 361.5h7.0M73.0 383.5h7.0M72.5 372.5h8M76.5 368.5v8M82.5 362.5V383.5M79.0 362.5h7.0M79.0 383.5h7.0M78.5 373.5h8M82.5 369.5v8M87.5 360.5V382.5M84.0 360.5h7.0M84.0 382.5h7.0M83.5 371.5h8M87.5 367.5v8M92.5 358.5V380.5M89.0 358.5h7.0M89.0 380.5h7.0M88.5 369.5h8M92.5 365.5v8M98.5 358.5V379.5M95.0 358.5h7.0M95.0 379.5h7.0M94.5 368.5h8M98.5 364.5v8M103.5 348.5V369.5M100.0 348.5h7.0M100.0 369.5h7.0M99.5 359.5h8M103.5 355.5v8M109.5 341.5V363.5M106.0 341.5h7.0M106.0 363.5h7.0M105.5 352.5h8M109.5 348.5v8M114.5 335.5V357.5M111.0 335.5h7.0M111.0 357.5h7.0M110.5 346.5h8M114.5 342.5v8M119.5 322.5V343.5M116.0 322.5h7.0M116.0 343.5h7.0M115.5 333.5h8M119.5 329.5v8M125.5 309.5V330.5M122.0 309.5h7.0M122.0 330.5h7.0M121.5 320.5h8M125.5 316.5v8M130.5 288.5V309.5M127.0 288.5h7.0M127.0 309.5h7.0M126.5 299.5h8M130.5 295.5v8M136.5 265.5V287.5M133.0 265.5h7.0M133.0 287.5h7.0M132.5 276.5h8M136.5 272.5v8M141.5 240.5V262.5M138.0 240.5h7.0M138.0 262.5h7.0M137.5 251.5h8M141.5 247.5v8M146.5 218.5V239.5M143.0 218.5h7.0M143.0 239.5h7.0M142.5 229.5h8M146.5 225.5v8M152.5 195.5V217.5M149.0 195.5h7.0M149.0 217.5h7.0M148.5 206.5h8M152.5 202.5v8M157.5 181.5V202.5M154.0 181.5h7.0M154.0 202.5h7.0M153.5 192.5h8M157.5 188.5v8M163.5 169.5V191.5M160.0 169.5h7.0M160.0 191.5h7.0M159.5 180.5h8M163.5 176.5v8M168.5 165.5V187.5M165.0 165.5h7.0M165.0 187.5h7.0M164.5 176.5h8M168.5 172.5v8M173.5 167.5V188.5M170.0 167.5h7.0M170.0 188.5h7.0M169.5 177.5h8M173.5 173.5v8M179.5 176.5V198.5M176.0 176.5h7.0M176.0 198.5h7.0M175.5 187.5h8M179.5 183.5v8M184.5 190.5V211.5M181.0 190.5h7.0M181.0 211.5h7.0M180.5 201.5h8M184.5 197.5v8M190.5 213.5V234.5M187.0 213.5h7.0M187.0 234.5h7.0M186.5 223.5h8M190.5 219.5v8M195.5 238.5V260.5M192.0 238.5h7.0M192.0 260.5h7.0M191.5 249.5h8M195.5 245.5v8M200.5 268.5V290.5M197.0 268.5h7.0M197.0 290.5h7.0M196.5 279.5h8M200.5 275.5v8M206.5 298.5V320.5M203.0 298.5h7.0M203.0 320.5h7.0M202.5 309.5h8M206.5 305.5v8M211.5 328.5V350.5M208.0 328.5h7.0M208.0 350.5h7.0M207.5 339.5h8M211.5 335.5v8M217.5 358.5V380.5M214.0 358.5h7.0M214.0 380.5h7.0M213.5 369.5h8M217.5 365.5v8" stroke="#ee6e40" fill="none" stroke-width="1"/><path d="M25 337h1v1h-1zM25 343h1v1h-1zM26 338h1v1h-1zM26 342h1v1h-1zM27 339h1v1h-1zM27 341h1v1h-1zM28 340h1v1h-1zM29 341h1v1h-1zM29 339h1v1h-1zM30 342h1v1h-1zM30 338h1v1h-1zM31 343h1v1h-1zM31 337h1v1h-1zM30 342h1v1h-1zM30 348h1v1h-1zM31 343h1v1h-1zM31 347h1v1h-1zM32 344h1v1h-1zM32 346h1v1h-1zM33 345h1v1h-1zM34 346h1v1h-1zM34 344h1v1h-1zM35 347h1v1h-1zM35 343h1v1h-1zM36 348h1v1h-1zM36 342h1v1h-1zM35 348h1v1h-1zM35 354h1v1h-1zM36 349h1v1h-1zM36 353h1v1h-1zM37 350h1v1h-1zM37 352h1v1h-1zM38 351h1v1h-1zM39 352h1v1h-1zM39 350h1v1h-1zM40 353h1v1h-1zM40 349h1v1h-1zM41 354h1v1h-1zM41 348h1v1h-1zM41 352h1v1h-1zM41 358h1v1h-1zM42 353h1v1h-1zM42 357h1v1h-1zM43 354h1v1h-1zM43 356h1v1h-1zM44 355h1v1h-1zM45 356h1v1h-1zM45 354h1v1h-1zM46 357h1v1h-1zM46 353h1v1h-1zM47 358h1v1h-1zM47 352h1v1h-1zM46 356h1v1h-1zM46 362h1v1h-1zM47 357h1v1h-1zM47 361h1v1h-1zM48 358h1v1h-1zM48 360h1v1h-1zM49 359h1v1h-1zM50 360h1v1h-1zM50 358h1v1h-1zM51 361h1v1h-1zM51 357h1v1h-1zM52 362h1v1h-1zM52 356h1v1h-1zM52 359h1v1h-1zM52 365h1v1h-1zM53 360h1v1h-1zM53 364h1v1h-1zM54 361h1v1h-1zM54 363h1v1h-1zM55 362h1v1h-1zM56 363h1v1h-1zM56 361h1v1h-1zM57 364h1v1h-1zM57 360h1v1h-1zM58 365h1v1h-1zM58 359h1v1h-1zM57 363h1v1h-1zM57 369h1v1h-1zM58 364h1v1h-1zM58 368h1v1h-1zM59 365h1v1h-1zM59 367h1v1h-1zM60 366h1v1h-1zM61 367h1v1h-1zM61 365h1v1h-1zM62 368h1v1h-1zM62 364h1v1h-1zM63 369h1v1h-1zM63 363h1v1h-1zM62 364h1v1h-1zM62 370h1v1h-1zM63 365h1v1h-1zM63 369h1v1h-1zM64 366h1v1h-1zM64 368h1v1h-1zM65 367h1v1h-1zM66 368h1v1h-1zM66 366h1v1h-1zM67 369h1v1h-1zM67 365h1v1h-1zM68 370h1v1h-1zM68 364h1v1h-1zM68 368h1v1h-1zM68 374h1v1h-1zM69 369h1v1h-1zM69 373h1v1h-1zM70 370h1v1h-1zM70 372h1v1h-1zM71 371h1v1h-1zM72 372h1v1h-1zM72 370h1v1h-1zM73 373h1v1h-1zM73 369h1v1h-1zM74 374h1v1h-1zM74 368h1v1h-1zM73 369h1v1h-1zM73 375h1v1h-1zM74 370h1v1h-1zM74 374h1v1h-1zM75 371h1v1h-1zM75 373h1v1h-1zM76 372h1v1h-1zM77 373h1v1h-1zM77 371h1v1h-1zM78 374h1v1h-1zM78 370h1v1h-1zM79 375h1v1h-1zM79 369h1v1h-1zM79 370h1v1h-1zM79 376h1v1h-1zM80 371h1v1h-1zM80 375h1v1h-1zM81 372h1v1h-1zM81 374h1v1h-1zM82 373h1v1h-1zM83 374h1v1h-1zM83 372h1v1h-1zM84 375h1v1h-1zM84 371h1v1h-1zM85 376h1v1h-1zM85 370h1v1h-1zM84 368h1v1h-1zM84 374h1v1h-1zM85 369h1v1h-1zM85 373h1v1h-1zM86 370h1v1h-1zM86 372h1v1h-1zM87 371h1v1h-1zM88 372h1v1h-1zM88 370h1v1h-1zM89 373h1v1h-1zM89 369h1v1h-1zM90 374h1v1h-1zM90 368h1v1h-1zM89 366h1v1h-1zM89 372h1v1h-1zM90 367h1v1h-1zM90 371h1v1h-1zM91 368h1v1h-1zM91 370h1v1h-1zM92 369h1v1h-1zM93 370h1v1h-1zM93 368h1v1h-1zM94 371h1v1h-1zM94 367h1v1h-1zM95 372h1v1h-1zM95 366h1v1h-1zM95 365h1v1h-1zM95 371h1v1h-1zM96 366h1v1h-1zM96 370h1v1h-1zM97 367h1v1h-1zM97 369h1v1h-1zM98 368h1v1h-1zM99 369h1v1h-1zM99 367h1v1h-1zM100 370h1v1h-1zM100 366h1v1h-1zM101 371h1v1h-1zM101 365h1v1h-1zM100 356h1v1h-1zM100 362h1v1h-1zM101 357h1v1h-1zM101 361h1v1h-1zM102 358h1v1h-1zM102 360h1v1h-1zM103 359h1v1h-1zM104 360h1v1h-1zM104 358h1v1h-1zM105 361h1v1h-1zM105 357h1v1h-1zM106 362h1v1h-1zM106 356h1v1h-1zM106 349h1v1h-1zM106 355h1v1h-1zM107 350h1v1h-1zM107 354h1v1h-1zM108 351h1v1h-1zM108 353h1v1h-1zM109 352h1v1h-1zM110 353h1v1h-1zM110 351h1v1h-1zM111 354h1v1h-1zM111 350h1v1h-1zM112 355h1v1h-1zM112 349h1v1h-1zM111 343h1v1h-1zM111 349h1v1h-1zM112 344h1v1h-1zM112 348h1v1h-1zM113 345h1v1h-1zM113 347h1v1h-1zM114 346h1v1h-1zM115 347h1v1h-1zM115 345h1v1h-1zM116 348h1v1h-1zM116 344h1v1h-1zM117 349h1v1h-1zM117 343h1v1h-1zM116 330h1v1h-1zM116 336h1v1h-1zM117 331h1v1h-1zM117 335h1v1h-1zM118 332h1v1h-1zM118 334h1v1h-1zM119 333h1v1h-1zM120 334h1v1h-1zM120 332h1v1h-1zM121 335h1v1h-1zM121 331h1v1h-1zM122 336h1v1h-1zM122 330h1v1h-1zM122 317h1v1h-1zM122 323h1v1h-1zM123 318h1v1h-1zM123 322h1v1h-1zM124 319h1v1h-1zM124 321h1v1h-1zM125 320h1v1h-1zM126 321h1v1h-1zM126 319h1v1h-1zM127 322h1v1h-1zM127 318h1v1h-1zM128 323h1v1h-1zM128 317h1v1h-1zM127 296h1v1h-1zM127 302h1v1h-1zM128 297h1v1h-1zM128 301h1v1h-1zM129 298h1v1h-1zM129 300h1v1h-1zM130 299h1v1h-1zM131 300h1v1h-1zM131 298h1v1h-1zM132 301h1v1h-1zM132 297h1v1h-1zM133 302h1v1h-1zM133 296h1v1h-1zM133 273h1v1h-1zM133 279h1v1h-1zM134 274h1v1h-1zM134 278h1v1h-1zM135 275h1v1h-1zM135 277h1v1h-1zM136 276h1v1h-1zM137 277h1v1h-1zM137 275h1v1h-1zM138 278h1v1h-1zM138 274h1v1h-1zM139 279h1v1h-1zM139 273h1v1h-1zM138 248h1v1h-1zM138 254h1v1h-1zM139 249h1v1h-1zM139 253h1v1h-1zM140 250h1v1h-1zM140 252h1v1h-1zM141 251h1v1h-1zM142 252h1v1h-1zM142 250h1v1h-1zM143 253h1v1h-1zM143 249h1v1h-1zM144 254h1v1h-1zM144 248h1v1h-1zM143 226h1v1h-1zM143 232h1v1h-1zM144 227h1v1h-1zM144 231h1v1h-1zM145 228h1v1h-1zM145 230h1v1h-1zM146 229h1v1h-1zM147 230h1v1h-1zM147 228h1v1h-1zM148 231h1v1h-1zM148 227h1v1h-1zM149 232h1v1h-1zM149 226h1v1h-1zM149 203h1v1h-1zM149 209h1v1h-1zM150 204h1v1h-1zM150 208h1v1h-1zM151 205h1v1h-1zM151 207h1v1h-1zM152 206h1v1h-1zM153 207h1v1h-1zM153 205h1v1h-1zM154 208h1v1h-1zM154 204h1v1h-1zM155 209h1v1h-1zM155 203h1v1h-1zM154 189h1v1h-1zM154 195h1v1h-1zM155 190h1v1h-1zM155 194h1v1h-1zM156 191h1v1h-1zM156 193h1v1h-1zM157 192h1v1h-1zM158 193h1v1h-1zM158 191h1v1h-1zM159 194h1v1h-1zM159 190h1v1h-1zM160 195h1v1h-1zM160 189h1v1h-1zM160 177h1v1h-1zM160 183h1v1h-1zM161 178h1v1h-1zM161 182h1v1h-1zM162 179h1v1h-1zM162 181h1v1h-1zM163 180h1v1h-1zM164 181h1v1h-1zM164 179h1v1h-1zM165 182h1v1h-1zM165 178h1v1h-1zM166 183h1v1h-1zM166 177h1v1h-1zM165 173h1v1h-1zM165 179h1v1h-1zM166 174h1v1h-1zM166 178h1v1h-1zM167 175h1v1h-1zM167 177h1v1h-1zM168 176h1v1h-1zM169 177h1v1h-1zM169 175h1v1h-1zM170 178h1v1h-1zM170 174h1v1h-1zM171 179h1v1h-1zM171 173h1v1h-1zM170 174h1v1h-1zM170 180h1v1h-1zM171 175h1v1h-1zM171 179h1v1h-1zM172 176h1v1h-1zM172 178h1v1h-1zM173 177h1v1h-1zM174 178h1v1h-1zM174 176h1v1h-1zM175 179h1v1h-1zM175 175h1v1h-1zM176 180h1v1h-1zM176 174h1v1h-1zM176 184h1v1h-1zM176 190h1v1h-1zM177 185h1v1h-1zM177 189h1v1h-1zM178 186h1v1h-1zM178 188h1v1h-1zM179 187h1v1h-1zM180 188h1v1h-1zM180 186h1v1h-1zM181 189h1v1h-1zM181 185h1v1h-1zM182 190h1v1h-1zM182 184h1v1h-1zM181 198h1v1h-1zM181 204h1v1h-1zM182 199h1v1h-1zM182 203h1v1h-1zM183 200h1v1h-1zM183 202h1v1h-1zM184 201h1v1h-1zM185 202h1v1h-1zM185 200h1v1h-1zM186 203h1v1h-1zM186 199h1v1h-1zM187 204h1v1h-1zM187 198h1v1h-1zM187 220h1v1h-1zM187 226h1v1h-1zM188 221h1v1h-1zM188 225h1v1h-1zM189 222h1v1h-1zM189 224h1v1h-1zM190 223h1v1h-1zM191 224h1v1h-1zM191 222h1v1h-1zM192 225h1v1h-1zM192 221h1v1h-1zM193 226h1v1h-1zM193 220h1v1h-1zM192 246h1v1h-1zM192 252h1v1h-1zM193 247h1v1h-1zM193 251h1v1h-1zM194 248h1v1h-1zM194 250h1v1h-1zM195 249h1v1h-1zM196 250h1v1h-1zM196 248h1v1h-1zM197 251h1v1h-1zM197 247h1v1h-1zM198 252h1v1h-1zM198 246h1v1h-1zM197 276h1v1h-1zM197 282h1v1h-1zM198 277h1v1h-1zM198 281h1v1h-1zM199 278h1v1h-1zM199 280h1v1h-1zM200 279h1v1h-1zM201 280h1v1h-1zM201 278h1v1h-1zM202 281h1v1h-1zM202 277h1v1h-1zM203 282h1v1h-1zM203 276h1v1h-1zM203 306h1v1h-1zM203 312h1v1h-1zM204 307h1v1h-1zM204 311h1v1h-1zM205 308h1v1h-1zM205 310h1v1h-1zM206 309h1v1h-1zM207 310h1v1h-1zM207 308h1v1h-1zM208 311h1v1h-1zM208 307h1v1h-1zM209 312h1v1h-1zM209 306h1v1h-1zM208 336h1v1h-1zM208 342h1v1h-1zM209 337h1v1h-1zM209 341h1v1h-1zM210 338h1v1h-1zM210 340h1v1h-1zM211 339h1v1h-1zM212 340h1v1h-1zM212 338h1v1h-1zM213 341h1v1h-1zM213 337h1v1h-1zM214 342h1v1h-1zM214 336h1v1h-1zM214 366h1v1h-1zM214 372h1v1h-1zM215 367h1v1h-1zM215 371h1v1h-1zM216 368h1v1h-1zM216 370h1v1h-1zM217 369h1v1h-1zM218 370h1v1h-1zM218 368h1v1h-1zM219 371h1v1h-1zM219 367h1v1h-1zM220 372h1v1h-1zM220 366h1v1h-1z" fill="#ee6e40"/>
</g>
<path d="M28.5 48.5H460.5V376.5H28.5ZM82.5 376V369M82.5 48V56M136.5 376V369M136.5 48V56M190.5 376V369M190.5 48V56M244.5 376V369M244.5 48V56M298.5 376V369M298.5 48V56M352.5 376V369M352.5 48V56M406.5 376V369M406.5 48V56" stroke="#000" fill="none" stroke-width="1" shape-rendering="crispEdges"/>
<g font-family="Liberation Serif" font-size="10" fill="#000" stroke="#000" stroke-width="0.3" filter="url(#al)">
<text x="28.5" y="394.5" text-anchor="middle" stroke-width="0.25">400</text><text x="82.5" y="394.5" text-anchor="middle" stroke-width="0.25">450</text><text x="136.5" y="394.5" text-anchor="middle" stroke-width="0.25">500</text><text x="190.5" y="394.5" text-anchor="middle" stroke-width="0.25">550</text><text x="244.5" y="394.5" text-anchor="middle" stroke-width="0.25">600</text><text x="298.5" y="394.5" text-anchor="middle" stroke-width="0.25">650</text><text x="352.5" y="394.5" text-anchor="middle" stroke-width="0.25">700</text><text x="406.5" y="394.5" text-anchor="middle" stroke-width="0.25">750</text><text x="460.5" y="394.5" text-anchor="middle" stroke-width="0.25">800</text>
<text x="207" y="415.5" textLength="73" lengthAdjust="spacingAndGlyphs" stroke-width="0.4">Wavelength / nm</text>
<text x="291.3" y="66.7" textLength="115.5" lengthAdjust="spacingAndGlyphs">Data - (Light Blue Solution)</text><text x="258.5" y="81.0" textLength="155" lengthAdjust="spacingAndGlyphs">80±20nm Core / 50±20nm Shell Fit</text><text x="293.8" y="95.2" textLength="113" lengthAdjust="spacingAndGlyphs">Data - (Dark Blue Solution)</text><text x="258.5" y="109.5" textLength="155" lengthAdjust="spacingAndGlyphs">80±30nm Core / 50±40nm Shell Fit</text><text x="327.1" y="123.7" textLength="79.7" lengthAdjust="spacingAndGlyphs">Gold Colloid - Data</text>
</g>
<text transform="translate(18.5 211) rotate(-90)" text-anchor="middle" font-family="Liberation Serif" font-size="10" fill="#000" stroke="#000" stroke-width="0.3">Absorbance / arbitrary units</text>
<path d="M414.5 63.5H447.5M414.5 60.5v6M447.5 60.5v6M427.5 63.5h6M430.5 60.5v6" stroke="#1f78dc" fill="none" stroke-width="1" shape-rendering="crispEdges"/><path d="M414 77.5H448" stroke="#b02828" stroke-width="1" shape-rendering="crispEdges"/><path d="M414.5 92.5H447.5M414.5 89.5v6M447.5 89.5v6" stroke="#1a1a70" fill="none" stroke-width="1" shape-rendering="crispEdges"/><path d="M426 88h1v1h-1zM426 96h1v1h-1zM427 89h1v1h-1zM427 95h1v1h-1zM428 90h1v1h-1zM428 94h1v1h-1zM429 91h1v1h-1zM429 93h1v1h-1zM430 92h1v1h-1zM431 93h1v1h-1zM431 91h1v1h-1zM432 94h1v1h-1zM432 90h1v1h-1zM433 95h1v1h-1zM433 89h1v1h-1zM434 96h1v1h-1zM434 88h1v1h-1z" fill="#1a1a70" shape-rendering="crispEdges"/><path d="M414 106.5H448" stroke="#2a6a50" stroke-width="1" shape-rendering="crispEdges"/><path d="M414.5 120.5H447.5M414.5 117.5v6M447.5 117.5v6M426.5 120.5h8M430.5 116.5v8" stroke="#ee6e40" fill="none" stroke-width="1" shape-rendering="crispEdges"/><path d="M427 117h1v1h-1zM427 123h1v1h-1zM428 118h1v1h-1zM428 122h1v1h-1zM429 119h1v1h-1zM429 121h1v1h-1zM430 120h1v1h-1zM431 121h1v1h-1zM431 119h1v1h-1zM432 122h1v1h-1zM432 118h1v1h-1zM433 123h1v1h-1zM433 117h1v1h-1z" fill="#ee6e40" shape-rendering="crispEdges"/>
</svg></body></html>
